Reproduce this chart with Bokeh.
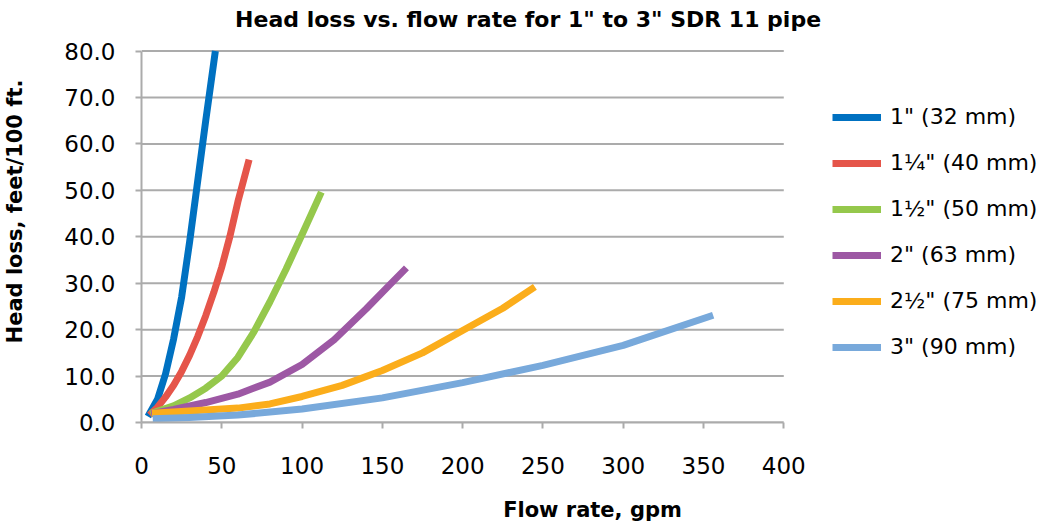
from bokeh.plotting import figure
from bokeh.models import Range1d, FixedTicker, NumeralTickFormatter, Legend, LegendItem, Label
from bokeh.embed import file_html
from bokeh.resources import INLINE

# ---- data ----
labels = ['1" (32 mm)', '1¼" (40 mm)', '1½" (50 mm)', '2" (63 mm)', '2½" (75 mm)', '3" (90 mm)']
colors = ["#0071C1", "#E5554A", "#95C84C", "#9D58A4", "#FBAD1B", "#78A9DB"]

x_1in = [4, 10, 15, 20, 25, 30, 35, 40, 46]
y_1in = [1.3, 5, 10.5, 18, 27, 39, 52, 65, 80]

x_125in = [5, 10, 15, 20, 25, 30, 35, 40, 45, 50, 55, 60, 67]
y_125in = [1.6, 3.3, 5.5, 8, 11, 14.5, 18.5, 23, 28, 33.5, 40, 47.5, 56.6]

x_15in = [5.5, 20, 30, 40, 50, 60, 70, 80, 90, 100, 112]
y_15in = [1.9, 3.6, 5.3, 7.4, 10, 14, 19.5, 26, 33, 40.5, 49.6]

x_2in = [6, 20, 40, 60, 80, 100, 120, 140, 155, 165]
y_2in = [1.9, 2.8, 4.3, 6.1, 8.7, 12.5, 17.8, 24.5, 29.8, 33.3]

x_25in = [6.5, 30, 60, 80, 100, 125, 150, 175, 200, 225, 245]
y_25in = [2.0, 2.5, 3.1, 4.0, 5.6, 8.0, 11.2, 15, 19.8, 24.6, 29.2]

x_3in = [7, 30, 60, 100, 150, 200, 250, 300, 356]
y_3in = [0.8, 1.1, 1.6, 2.9, 5.3, 8.6, 12.3, 16.6, 23.1]

x_ticks = [0, 50, 100, 150, 200, 250, 300, 350, 400]
y_ticks = [0, 10, 20, 30, 40, 50, 60, 70, 80]

title_text = 'Head loss vs. flow rate for 1" to 3" SDR 11 pipe'

series = [(x_1in, y_1in), (x_125in, y_125in), (x_15in, y_15in),
          (x_2in, y_2in), (x_25in, y_25in), (x_3in, y_3in)]

FONT = "DejaVu Sans"
GRID = "#ABABAB"

# ---- layout (pixels) ----
W, H = 1043, 529
LEFT, BOTTOM = 140, 107
AXIS_W = 643.0            # pixels spanned by the x axis (0..400)
TOP_OF_AXIS = 50.5        # pixel row of the top gridline
frame_h = H - BOTTOM

x_axis_end = x_ticks[-1]
y_axis_end = y_ticks[-1]
# the frame is widened/heightened so that legend and title live inside it
x_view_end = x_axis_end * (W - LEFT) / AXIS_W
y_view_end = y_axis_end * frame_h / (frame_h - TOP_OF_AXIS)

p = figure(width=W, height=H, output_backend="svg", toolbar_location=None,
           x_range=Range1d(0, x_view_end), y_range=Range1d(y_ticks[0], y_view_end),
           min_border_left=LEFT, min_border_right=0, min_border_top=0, min_border_bottom=BOTTOM)

p.outline_line_color = None
p.background_fill_color = "white"

# grid (horizontal lines only over the axis extent)
p.xgrid.grid_line_color = None
p.ygrid.grid_line_color = None
p.segment(x0=[x_ticks[0]] * len(y_ticks), x1=[x_axis_end] * len(y_ticks),
          y0=y_ticks, y1=y_ticks, line_color=GRID, line_width=2)

# axes
for ax in (p.xaxis[0], p.yaxis[0]):
    ax.axis_line_color = GRID
    ax.axis_line_width = 2
    ax.major_tick_line_color = GRID
    ax.major_tick_line_width = 2
    ax.major_tick_out = 6
    ax.major_tick_in = 0
    ax.minor_tick_line_color = None
    ax.major_label_text_font = FONT
    ax.major_label_text_font_size = "23px"
    ax.major_label_text_color = "black"
    ax.axis_label_text_font = FONT
    ax.axis_label_text_font_size = "21px"
    ax.axis_label_text_font_style = "bold"
    ax.axis_label_text_color = "black"

p.xaxis.ticker = FixedTicker(ticks=x_ticks)
p.xaxis.bounds = (x_ticks[0], x_axis_end)
p.xaxis.major_label_standoff = 28
p.xaxis.axis_label = "Flow rate, gpm"
p.xaxis.axis_label_standoff = 21

p.yaxis.ticker = FixedTicker(ticks=y_ticks)
p.yaxis.bounds = (y_ticks[0], y_axis_end)
p.yaxis.formatter = NumeralTickFormatter(format="0.0")
p.yaxis.major_label_standoff = 20
p.yaxis.axis_label = "Head loss, feet/100 ft."
p.yaxis.axis_label_standoff = 34

# title (centred over the page, above the top gridline)
px_per_x = AXIS_W / x_axis_end
px_per_y = (frame_h - TOP_OF_AXIS) / y_axis_end
title_x = (527 - LEFT) / px_per_x
title_y = y_axis_end + (TOP_OF_AXIS - 19) / px_per_y
p.add_layout(Label(x=title_x, y=title_y, text=title_text, text_align="center",
                   text_baseline="middle", text_font=FONT, text_font_size="22px",
                   text_font_style="bold", text_color="black"))

items = []
for (xs, ys), c, lab in zip(series, colors, labels):
    r = p.line(xs, ys, line_width=7, line_color=c, line_join="round")
    items.append(LegendItem(label=lab, renderers=[r]))

legend = Legend(items=items, location=(691, 63), orientation="vertical",
                glyph_width=49, glyph_height=20, label_height=20, spacing=21,
                padding=0, margin=0, border_line_color=None, background_fill_alpha=0,
                label_text_font=FONT, label_text_font_size="22px", label_standoff=9,
                label_text_color="black")
p.add_layout(legend)

open("out.html", "w").write(file_html(p, INLINE))
